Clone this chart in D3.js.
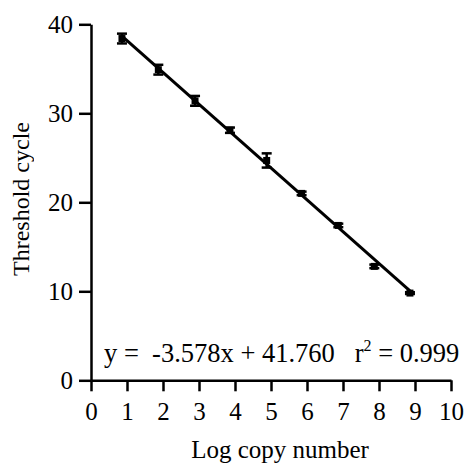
<!DOCTYPE html>
<html>
<head>
<meta charset="utf-8">
<script src="https://cdn.jsdelivr.net/npm/d3@7"></script>
<style>
  body { margin: 0; background: white; }
</style>
</head>
<body>
<div id="chart"></div>
<script>
// setup
var w = 465;
var h = 464;
var serif = "'Liberation Serif', 'Times New Roman', serif";

// data
var logCopy = [0.86, 1.87, 2.89, 3.86, 4.88, 5.85, 6.87, 7.87, 8.86];
var ctMean  = [38.4, 34.9, 31.4, 28.1, 24.7, 21.0, 17.4, 12.8, 9.8];
var ctErr   = [0.55, 0.55, 0.55, 0.3, 0.8, 0.2, 0.2, 0.2, 0.1];
var xTicks = [0, 1, 2, 3, 4, 5, 6, 7, 8, 9, 10];
var yTicks = [0, 10, 20, 30, 40];
var slope = -3.578;
var intercept = 41.760;
var fitRange = [0.86, 8.86];

var svg = d3.select("#chart")
            .append("svg")
            .attr("width", w)
            .attr("height", h)
            .style("background", "white");

var x = d3.scaleLinear().domain([0, 10]).range([91, 451]);
var y = d3.scaleLinear().domain([0, 40]).range([380.3, 24.3]);

// axes
var xAxis = svg.append("g")
    .attr("transform", "translate(0," + y(0) + ")")
    .call(d3.axisBottom(x).tickValues(xTicks).tickSize(11).tickSizeOuter(0).tickPadding(11));
var yAxis = svg.append("g")
    .attr("transform", "translate(" + x(0) + ",0)")
    .call(d3.axisLeft(y).tickValues(yTicks).tickSize(12).tickSizeOuter(0).tickPadding(6));

[xAxis, yAxis].forEach(function(g){
    g.attr("font-family", serif).attr("font-size", 25);
    g.select(".domain").attr("stroke", "black").attr("stroke-width", 2.5);
    g.selectAll(".tick line").attr("stroke", "black").attr("stroke-width", 2.5);
    g.selectAll(".tick text")
        .attr("fill", "black")
        .attr("font-family", serif)
        .attr("font-size", 25);
});

// regression line
var fit = fitRange.map(function(v){ return [v, slope * v + intercept]; });
svg.append("path")
    .datum(fit)
    .attr("d", d3.line().x(function(d){ return x(d[0]); }).y(function(d){ return y(d[1]); }))
    .attr("stroke", "black")
    .attr("stroke-width", 3)
    .attr("fill", "none");

var pts = logCopy.map(function(v, i){ return {x: v, y: ctMean[i], e: ctErr[i]}; });

// error bars
var eb = svg.append("g").selectAll("g").data(pts).enter().append("g")
    .attr("stroke", "black").attr("stroke-width", 2.5);
eb.append("line")
    .attr("x1", function(d){ return x(d.x); })
    .attr("x2", function(d){ return x(d.x); })
    .attr("y1", function(d){ return y(d.y + d.e); })
    .attr("y2", function(d){ return y(d.y - d.e); });
eb.append("line")
    .attr("x1", function(d){ return x(d.x) - 5; })
    .attr("x2", function(d){ return x(d.x) + 5; })
    .attr("y1", function(d){ return y(d.y + d.e); })
    .attr("y2", function(d){ return y(d.y + d.e); });
eb.append("line")
    .attr("x1", function(d){ return x(d.x) - 5; })
    .attr("x2", function(d){ return x(d.x) + 5; })
    .attr("y1", function(d){ return y(d.y - d.e); })
    .attr("y2", function(d){ return y(d.y - d.e); });

// markers
svg.append("g").selectAll("rect").data(pts).enter().append("rect")
    .attr("x", function(d){ return x(d.x) - 3.5; })
    .attr("y", function(d){ return y(d.y) - 3.5; })
    .attr("width", 7)
    .attr("height", 7)
    .attr("fill", "black");

// equation
var eq = svg.append("text")
    .attr("x", 104)
    .attr("y", 362)
    .attr("xml:space", "preserve")
    .attr("font-family", serif)
    .attr("font-size", 26.5)
    .attr("fill", "black")
    .style("white-space", "pre");
eq.append("tspan").text("y =  " + slope.toFixed(3) + "x + " + intercept.toFixed(3) + "   r");
eq.append("tspan").attr("dy", -11).attr("font-size", 16).text("2");
eq.append("tspan").attr("dy", 11).text(" = 0.999");

// axis titles
svg.append("text")
    .attr("x", 280)
    .attr("y", 458)
    .attr("text-anchor", "middle")
    .attr("font-family", serif)
    .attr("font-size", 25)
    .attr("fill", "black")
    .text("Log copy number");
svg.append("text")
    .attr("transform", "translate(29,199) rotate(-90)")
    .attr("text-anchor", "middle")
    .attr("font-family", serif)
    .attr("font-size", 24)
    .attr("fill", "black")
    .attr("opacity", 0.999)
    .text("Threshold cycle");
</script>
</body>
</html>
